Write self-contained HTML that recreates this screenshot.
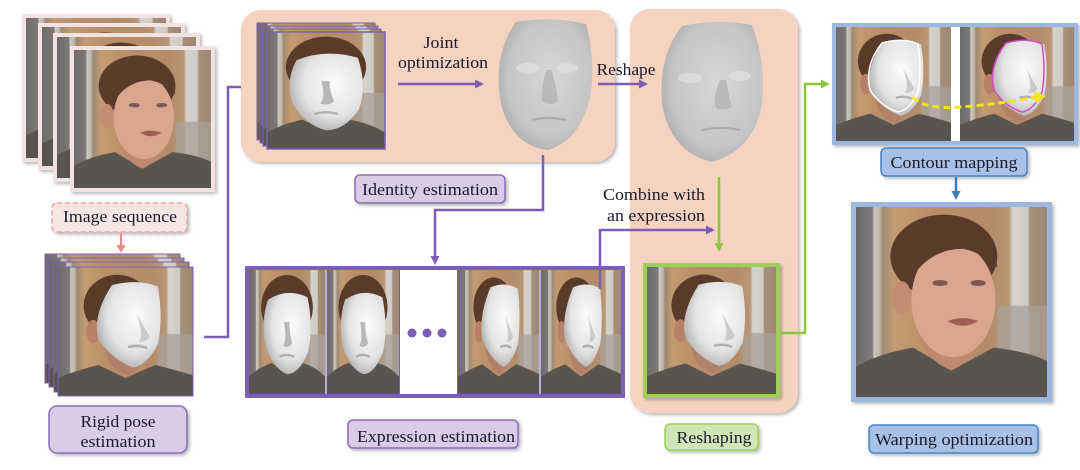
<!DOCTYPE html>
<html><head><meta charset="utf-8">
<style>
html,body{margin:0;padding:0;background:#fff;}
svg{display:block;}
text{font-family:"Liberation Serif",serif;font-size:17px;fill:#1a1a2a;}
</style></head>
<body>
<svg width="1080" height="470" viewBox="0 0 1080 470" xmlns="http://www.w3.org/2000/svg">
<defs>
  <filter id="sh" x="-10%" y="-10%" width="130%" height="130%">
    <feDropShadow dx="2" dy="2" stdDeviation="1.5" flood-color="#000" flood-opacity="0.28"/>
  </filter>
  <radialGradient id="mg" cx="0.6" cy="0.4" r="0.7">
    <stop offset="0" stop-color="#fbfbfb"/>
    <stop offset="0.6" stop-color="#e4e4e4"/>
    <stop offset="1" stop-color="#a4a4a4"/>
  </radialGradient>
  <radialGradient id="fg" cx="0.55" cy="0.45" r="0.65">
    <stop offset="0" stop-color="#d8d8d8"/>
    <stop offset="0.7" stop-color="#c4c4c4"/>
    <stop offset="1" stop-color="#a4a4a4"/>
  </radialGradient>
  <linearGradient id="bgg" x1="0" y1="0" x2="1" y2="0">
    <stop offset="0" stop-color="#6c6b6b"/>
    <stop offset="0.085" stop-color="#7c7978"/>
    <stop offset="0.095" stop-color="#cdc8c0"/>
    <stop offset="0.125" stop-color="#bcb4a8"/>
    <stop offset="0.14" stop-color="#a08a72"/>
    <stop offset="0.2" stop-color="#c39a72"/>
    <stop offset="0.4" stop-color="#b98e68"/>
    <stop offset="0.7" stop-color="#b48c6a"/>
    <stop offset="0.8" stop-color="#b89676"/>
    <stop offset="0.82" stop-color="#d6d2cc"/>
    <stop offset="0.9" stop-color="#d0ccc4"/>
    <stop offset="0.91" stop-color="#a89078"/>
    <stop offset="1" stop-color="#9c8674"/>
  </linearGradient>

  <symbol id="bg" viewBox="0 0 100 100" preserveAspectRatio="none">
    <rect width="100" height="100" fill="url(#bgg)"/>
    <rect x="74" y="52" width="26" height="48" fill="#a8a098" opacity="0.75"/>
  </symbol>

  <!-- real face photo -->
  <symbol id="pReal" viewBox="0 0 100 100" preserveAspectRatio="none">
    <use href="#bg" width="100" height="100"/>
    <path d="M0 84 Q12 77 30 74 L50 86 L72 74 Q90 76 100 81 V100 H0Z" fill="#58544f"/>
    <path d="M32 60 Q34 80 50 86 Q64 80 68 58Z" fill="#bf896f"/>
    <ellipse cx="46" cy="26" rx="28" ry="22" fill="#5a3a28"/>
    <ellipse cx="24" cy="48" rx="5" ry="9" fill="#c48c72"/>
    <ellipse cx="51" cy="49" rx="22" ry="30" fill="#daa68d"/>
    <path d="M27 40 Q26 22 38 16 Q56 8 72 20 L74 32 Q66 24 56 22 Q40 22 30 36Z" fill="#5a3a28"/>
    <ellipse cx="44" cy="40" rx="4" ry="1.6" fill="#7a5a50"/>
    <ellipse cx="64" cy="40" rx="4" ry="1.6" fill="#7a5a50"/>
    <path d="M48 60 Q56 57 64 60 Q56 65 48 60Z" fill="#a05e52"/>
  </symbol>

  <!-- turned mesh photo -->
  <symbol id="pMeshT" viewBox="0 0 100 100" preserveAspectRatio="none">
    <use href="#bg" width="100" height="100"/>
    <path d="M0 86 Q14 80 30 76 L50 86 L72 76 Q88 80 100 84 V100 H0Z" fill="#58544f"/>
    <path d="M34 60 Q36 80 52 84 Q64 78 66 64Z" fill="#b08068"/>
    <ellipse cx="44" cy="30" rx="25" ry="24" fill="#5a3a28"/>
    <ellipse cx="26" cy="50" rx="5" ry="9" fill="#b88068"/>
    <path d="M40 14 Q58 9 74 15 Q78 40 74 60 Q66 76 56 78 Q40 72 30 56 Q25 38 40 14Z" fill="url(#mg)"/>
    <path d="M58 36 Q64 52 60 58 Q66 58 68 54Z" fill="#c0c0c0" opacity="0.8"/>
    <path d="M52 62 Q60 60 66 63" stroke="#b0b0b0" stroke-width="2" fill="none"/>
  </symbol>

  <!-- frontal mesh photo -->
  <symbol id="pMeshF" viewBox="0 0 100 100" preserveAspectRatio="none">
    <use href="#bg" width="100" height="100"/>
    <path d="M0 86 Q14 78 30 75 L50 84 L70 75 Q88 78 100 86 V100 H0Z" fill="#58544f"/>
    <ellipse cx="50" cy="30" rx="34" ry="26" fill="#5a3a28"/>
    <path d="M25 24 Q50 14 77 22 Q85 46 78 66 Q66 84 50 84 Q33 80 22 62 Q15 42 25 24Z" fill="url(#mg)"/>
    <path d="M46 42 Q50 56 45 61 Q52 64 57 59 Q53 52 53 42Z" fill="#a8a8a8" opacity="0.8"/>
    <path d="M40 70 Q50 67 60 70" stroke="#b0b0b0" stroke-width="2" fill="none"/>
  </symbol>
</defs>

<!-- ============ IMAGE SEQUENCE ============ -->
<g filter="url(#sh)">
  <rect x="22" y="14" width="148" height="148" fill="#f2e2e1"/>
</g>
<use href="#pReal" x="26" y="18" width="140" height="140"/>
<g filter="url(#sh)">
  <rect x="38" y="23" width="147" height="147" fill="#f2e2e1"/>
</g>
<use href="#pReal" x="42" y="27" width="139" height="139"/>
<g filter="url(#sh)">
  <rect x="53" y="33" width="147" height="149" fill="#f2e2e1"/>
</g>
<use href="#pReal" x="57" y="37" width="139" height="141"/>
<g filter="url(#sh)">
  <rect x="70" y="46" width="145" height="146" fill="#f2e2e1"/>
</g>
<use href="#pReal" x="74" y="50" width="137" height="138"/>

<g filter="url(#sh)">
  <rect x="52" y="203" width="135" height="29" rx="5" fill="#f5e5e4" stroke="#f0a4a4" stroke-width="1.5" stroke-dasharray="5,3"/>
</g>
<text x="120" y="222" text-anchor="middle" textLength="114" lengthAdjust="spacingAndGlyphs">Image sequence</text>

<!-- pink arrow -->
<line x1="121" y1="233" x2="121" y2="246" stroke="#f08a8a" stroke-width="2"/>
<polygon points="116.5,245 125.5,245 121,253" fill="#f08a8a"/>

<!-- ============ RIGID POSE ============ -->
<use href="#pMeshT" x="45" y="254" width="135" height="129"/>
<rect x="45" y="254" width="135" height="129" fill="none" stroke="#7c5fb5" stroke-width="1"/>
<use href="#pMeshT" x="49" y="258" width="135" height="129"/>
<rect x="49" y="258" width="135" height="129" fill="none" stroke="#7c5fb5" stroke-width="1"/>
<use href="#pMeshT" x="54" y="262" width="135" height="130"/>
<rect x="54" y="262" width="135" height="130" fill="none" stroke="#7c5fb5" stroke-width="1"/>
<use href="#pMeshT" x="58" y="267" width="135" height="129"/>
<rect x="58" y="267" width="135" height="129" fill="none" stroke="#7c5fb5" stroke-width="1"/>

<g filter="url(#sh)">
  <rect x="49" y="406" width="138" height="47" rx="8" fill="#d8cce6" stroke="#8a6cb8" stroke-width="1.5"/>
</g>
<text x="118" y="427" text-anchor="middle" textLength="75" lengthAdjust="spacingAndGlyphs">Rigid pose</text>
<text x="118" y="447" text-anchor="middle" textLength="75" lengthAdjust="spacingAndGlyphs">estimation</text>

<!-- purple connector rigid -> identity -->
<path d="M204 337 H228 V87 H244" fill="none" stroke="#7c5fb5" stroke-width="2.5"/>
<polygon points="243,82.5 243,91.5 252,87" fill="#7c5fb5"/>

<!-- ============ IDENTITY BOX ============ -->
<g filter="url(#sh)">
  <rect x="241" y="10" width="374" height="152" rx="20" fill="#f6d3c1"/>
</g>
<use href="#pMeshF" x="257" y="23" width="118" height="117"/>
<rect x="257" y="23" width="118" height="117" fill="none" stroke="#7c5fb5" stroke-width="1"/>
<use href="#pMeshF" x="260" y="26" width="118" height="117"/>
<rect x="260" y="26" width="118" height="117" fill="none" stroke="#7c5fb5" stroke-width="1"/>
<use href="#pMeshF" x="263" y="29" width="118" height="117"/>
<rect x="263" y="29" width="118" height="117" fill="none" stroke="#7c5fb5" stroke-width="1"/>
<use href="#pMeshF" x="267" y="32" width="118" height="117"/>
<rect x="267" y="32" width="118" height="117" fill="none" stroke="#7c5fb5" stroke-width="1.5"/>

<text x="441" y="48" text-anchor="middle" textLength="35" lengthAdjust="spacingAndGlyphs">Joint</text>
<text x="443" y="68" text-anchor="middle" textLength="90" lengthAdjust="spacingAndGlyphs">optimization</text>
<line x1="398" y1="84" x2="476" y2="84" stroke="#7c5fb5" stroke-width="2.5"/>
<polygon points="475,79.5 475,88.5 484,84" fill="#7c5fb5"/>

<!-- identity face -->
<path d="M516 22 Q552 16 586 24 Q596 60 590 98 Q580 140 548 150 Q512 146 501 104 Q492 56 516 22Z" fill="url(#fg)"/>
<ellipse cx="528" cy="68" rx="12" ry="5" fill="#dedede" opacity="0.8"/>
<ellipse cx="567" cy="68" rx="11" ry="5" fill="#dedede" opacity="0.8"/>
<path d="M546 70 Q540 92 542 102 Q550 106 558 102 Q556 86 552 70Z" fill="#b4b4b4" opacity="0.8"/>
<path d="M532 120 Q548 116 566 120" stroke="#aaaaaa" stroke-width="2" fill="none"/>

<g filter="url(#sh)">
  <rect x="355" y="175" width="150" height="28" rx="5" fill="#d8cce6" stroke="#8a6cb8" stroke-width="1.5"/>
</g>
<text x="430" y="195" text-anchor="middle" textLength="136" lengthAdjust="spacingAndGlyphs">Identity estimation</text>

<!-- identity -> expression -->
<path d="M543 155 V210 H435 V257" fill="none" stroke="#7c5fb5" stroke-width="2.5"/>
<polygon points="430.5,256 439.5,256 435,265" fill="#7c5fb5"/>

<!-- ============ RESHAPING BOX ============ -->
<g filter="url(#sh)">
  <rect x="630" y="9" width="168" height="404" rx="20" fill="#f6d3c1"/>
</g>
<text x="626" y="75" text-anchor="middle" textLength="59" lengthAdjust="spacingAndGlyphs">Reshape</text>
<line x1="598" y1="84" x2="640" y2="84" stroke="#7c5fb5" stroke-width="2.5"/>
<polygon points="639,79.5 639,88.5 648,84" fill="#7c5fb5"/>

<!-- reshaped face -->
<path d="M682 26 Q718 18 752 25 Q766 62 762 104 Q754 150 712 162 Q670 152 662 104 Q658 56 682 26Z" fill="url(#fg)"/>
<ellipse cx="690" cy="78" rx="12" ry="5" fill="#dedede" opacity="0.8"/>
<ellipse cx="740" cy="76" rx="11" ry="5" fill="#dedede" opacity="0.8"/>
<path d="M720 80 Q712 98 716 108 Q724 112 732 107 Q728 92 726 80Z" fill="#b4b4b4" opacity="0.8"/>
<path d="M702 130 Q720 126 740 130" stroke="#aaaaaa" stroke-width="2" fill="none"/>

<text x="654" y="200" text-anchor="middle" textLength="102" lengthAdjust="spacingAndGlyphs">Combine with</text>
<text x="656" y="221" text-anchor="middle" textLength="98" lengthAdjust="spacingAndGlyphs">an expression</text>

<!-- green down arrow -->
<line x1="719" y1="177" x2="719" y2="244" stroke="#8cc63e" stroke-width="2.5"/>
<polygon points="714.5,243 723.5,243 719,252" fill="#8cc63e"/>

<!-- green framed photo -->
<g filter="url(#sh)">
  <rect x="645" y="265" width="133" height="131" fill="none" stroke="#9dcf5a" stroke-width="4"/>
</g>
<use href="#pMeshT" x="647" y="267" width="129" height="127"/>

<!-- ============ EXPRESSION STRIP ============ -->
<rect x="247" y="268" width="376" height="128" fill="#fff" stroke="#7c5fb5" stroke-width="4"/>
<use href="#pMeshF" x="249" y="270" width="76" height="124"/>
<use href="#pMeshF" x="327" y="270" width="72" height="124"/>
<use href="#pMeshT" x="458" y="270" width="81" height="124"/>
<use href="#pMeshT" x="541" y="270" width="80" height="124"/>
<line x1="326" y1="270" x2="326" y2="394" stroke="#7c5fb5" stroke-width="1"/>
<line x1="399.5" y1="270" x2="399.5" y2="394" stroke="#7c5fb5" stroke-width="1"/>
<line x1="457.5" y1="270" x2="457.5" y2="394" stroke="#7c5fb5" stroke-width="1"/>
<line x1="540" y1="270" x2="540" y2="394" stroke="#7c5fb5" stroke-width="1"/>
<circle cx="412" cy="333" r="4.5" fill="#7c5fb5"/>
<circle cx="427" cy="333" r="4.5" fill="#7c5fb5"/>
<circle cx="442" cy="333" r="4.5" fill="#7c5fb5"/>

<!-- combine connector -->
<path d="M600 289 V230 H707" fill="none" stroke="#7c5fb5" stroke-width="2.5"/>
<polygon points="706,225.5 706,234.5 715,230" fill="#7c5fb5"/>

<g filter="url(#sh)">
  <rect x="348" y="420" width="170" height="28" rx="5" fill="#d8cce6" stroke="#8a6cb8" stroke-width="1.5"/>
</g>
<text x="436" y="442" text-anchor="middle" textLength="158" lengthAdjust="spacingAndGlyphs">Expression estimation</text>

<g filter="url(#sh)">
  <rect x="665" y="424" width="93" height="26" rx="5" fill="#cfe6b6" stroke="#9dcf5a" stroke-width="1.5"/>
</g>
<text x="714" y="443" text-anchor="middle" textLength="75" lengthAdjust="spacingAndGlyphs">Reshaping</text>

<!-- green connector to contour -->
<path d="M780 333 H805 V84 H822" fill="none" stroke="#8cc63e" stroke-width="2.5"/>
<polygon points="821,79.5 821,88.5 830,84" fill="#8cc63e"/>

<!-- ============ CONTOUR MAPPING ============ -->
<g filter="url(#sh)">
  <rect x="834" y="25" width="242" height="118" fill="#fff" stroke="#9db8e0" stroke-width="4"/>
</g>
<use href="#pMeshT" x="836" y="27" width="115" height="114"/>
<use href="#pMeshT" x="960" y="27" width="114" height="114"/>
<!-- contour outlines -->
<path d="M882 43 Q903 37 918 44 Q922 72 918 92 Q910 110 898 112 Q880 106 870 90 Q864 66 882 43Z" fill="none" stroke="#ffffff" stroke-width="1.5"/>
<path d="M1006 43 Q1027 37 1042 44 Q1046 72 1042 92 Q1034 110 1022 112 Q1004 106 994 90 Q988 66 1006 43Z" fill="none" stroke="#d44cc4" stroke-width="1.5"/>
<path d="M913 97 Q925 110 960 107 Q1000 104 1036 97" fill="none" stroke="#f2e51c" stroke-width="3" stroke-dasharray="7,4"/>
<polygon points="1034,91 1046,96 1036,103" fill="#f2e51c"/>

<g filter="url(#sh)">
  <rect x="881" y="148" width="146" height="28" rx="5" fill="#a9c1e6" stroke="#4a82c4" stroke-width="1.5"/>
</g>
<text x="954" y="168" text-anchor="middle" textLength="127" lengthAdjust="spacingAndGlyphs">Contour mapping</text>

<line x1="956" y1="177" x2="956" y2="192" stroke="#3a7cc2" stroke-width="2.5"/>
<polygon points="951.5,191 960.5,191 956,200" fill="#3a7cc2"/>

<!-- ============ WARPING ============ -->
<g filter="url(#sh)">
  <rect x="853.5" y="204.5" width="196" height="195" fill="#fff" stroke="#9db8e0" stroke-width="5"/>
</g>
<use href="#pReal" x="856" y="207" width="191" height="190"/>

<g filter="url(#sh)">
  <rect x="869" y="425" width="169" height="28" rx="5" fill="#a9c1e6" stroke="#4a82c4" stroke-width="1.5"/>
</g>
<text x="954" y="445" text-anchor="middle" textLength="158" lengthAdjust="spacingAndGlyphs">Warping optimization</text>
</svg>
</body></html>
